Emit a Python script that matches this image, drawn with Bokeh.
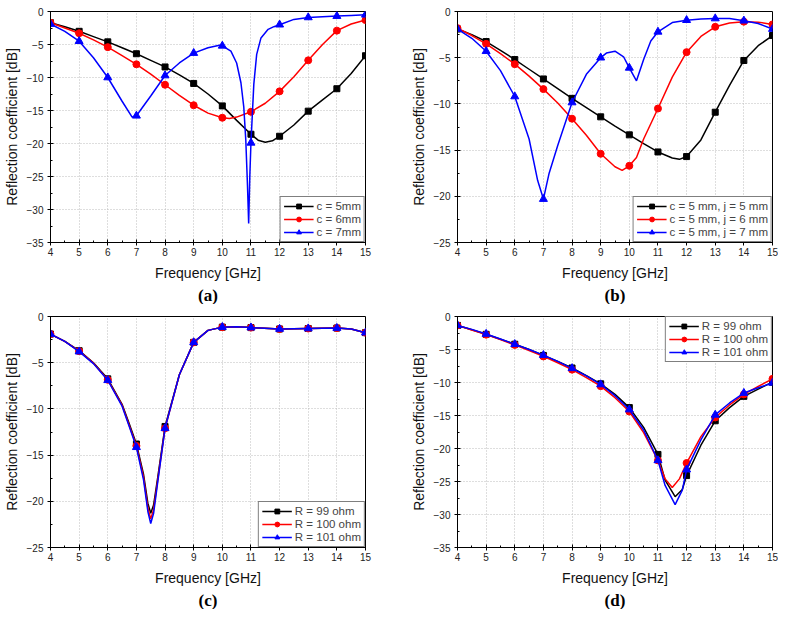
from bokeh.plotting import figure
from bokeh.layouts import column, row
from bokeh.models import Title, Legend, LegendItem, FixedTicker, Range1d
from bokeh.embed import file_html
from bokeh.resources import INLINE

# ---------------- data ----------------
freq = [4, 5, 6, 7, 8, 9, 10, 11, 12, 13, 14, 15]
x_ticks = [4, 5, 6, 7, 8, 9, 10, 11, 12, 13, 14, 15]
x_minor = [4.5, 5.5, 6.5, 7.5, 8.5, 9.5, 10.5, 11.5, 12.5, 13.5, 14.5]
y_ticks_35 = [0, -5, -10, -15, -20, -25, -30, -35]
y_ticks_25 = [0, -5, -10, -15, -20, -25]
y_minor_35 = [-2.5, -7.5, -12.5, -17.5, -22.5, -27.5, -32.5]
y_minor_25 = [-2.5, -7.5, -12.5, -17.5, -22.5]

# (a) marker values at integer frequencies
a_c5 = [-1.7, -3.0, -4.6, -6.4, -8.4, -10.9, -14.3, -18.6, -18.9, -15.1, -11.7, -6.7]
a_c6 = [-1.7, -3.3, -5.4, -8.0, -11.1, -14.2, -16.1, -15.2, -12.1, -7.4, -2.9, -1.3]
a_c7 = [-1.9, -4.5, -10.0, -15.8, -9.7, -6.3, -5.2, -19.9, -2.0, -0.9, -0.7, -0.5]
# (a) additional curve readings between markers
a_c5_ef = [4.5, 5.5, 6.5, 7.5, 8.5, 9.5, 10.5, 11.25, 11.5, 11.75, 12.5, 13.5, 14.5]
a_c5_ev = [-2.3, -3.8, -5.5, -7.4, -9.6, -12.5, -16.5, -19.5, -19.8, -19.6, -17.2, -13.4, -9.4]
a_c6_ef = [4.5, 5.5, 6.5, 7.5, 8.5, 9.5, 10.25, 10.5, 11.5, 12.5, 13.5, 14.5]
a_c6_ev = [-2.5, -4.3, -6.7, -9.5, -12.7, -15.4, -16.2, -16.0, -13.9, -9.9, -5.0, -1.9]
a_c7_ef = [4.5, 5.5, 6.5, 6.85, 7.5, 8.5, 9.5, 9.9, 10.3, 10.5, 10.65, 10.75, 10.82, 10.88,
           10.92, 10.96, 11.1, 11.2, 11.35, 11.6, 11.8, 12.5, 13.5, 14.5]
a_c7_ev = [-3.0, -7.0, -13.6, -16.0, -12.8, -7.8, -5.5, -5.1, -6.0, -7.8, -10.8, -14.5, -19.5, -26.5,
           -32.1, -25.0, -11.0, -6.5, -4.0, -2.7, -2.3, -1.2, -0.8, -0.6]

# (b)
b_j5 = [-1.9, -3.25, -5.2, -7.3, -9.4, -11.4, -13.35, -15.2, -15.7, -10.9, -5.3, -2.6]
b_j6 = [-1.8, -3.5, -5.7, -8.4, -11.6, -15.4, -16.7, -10.5, -4.4, -1.66, -1.1, -1.4]
b_j7 = [-1.9, -4.3, -9.2, -20.3, -9.85, -5.0, -6.1, -2.2, -0.94, -0.76, -1.0, -1.9]
b_j5_ef = [4.5, 5.5, 6.5, 7.5, 8.5, 9.5, 10.5, 11.5, 11.75, 12.5, 13.5, 14.5]
b_j5_ev = [-2.5, -4.2, -6.25, -8.35, -10.4, -12.4, -14.3, -15.85, -16.0, -13.9, -8.0, -3.7]
b_j6_ef = [4.5, 5.5, 6.5, 7.5, 8.5, 9.5, 9.75, 10.25, 10.5, 11.5, 12.5, 13.5, 14.5]
b_j6_ev = [-2.6, -4.55, -7.0, -9.9, -13.4, -16.8, -17.2, -15.8, -13.8, -7.1, -2.7, -1.25, -1.15]
b_j7_ef = [4.5, 5.5, 6.5, 6.8, 7.2, 7.5, 8.5, 9.2, 9.5, 9.8, 10.25, 10.5, 10.75, 11.5, 12.5, 13.5, 14.5]
b_j7_ev = [-2.9, -6.4, -13.8, -18.3, -17.5, -14.5, -6.8, -4.5, -4.3, -4.9, -7.5, -5.2, -3.2, -1.2, -0.8, -0.75, -1.3]

# (c)
c_r99 = [-1.9, -3.7, -6.75, -13.8, -11.9, -2.8, -1.15, -1.2, -1.35, -1.3, -1.25, -1.75]
c_r100 = [-1.9, -3.75, -6.85, -14.0, -12.1, -2.8, -1.15, -1.2, -1.35, -1.3, -1.25, -1.75]
c_r101 = [-1.9, -3.8, -6.9, -14.15, -12.1, -2.8, -1.15, -1.2, -1.35, -1.3, -1.25, -1.75]
c_r99_ef = [4.5, 5.5, 6.5, 6.75, 7.25, 7.4, 7.5, 7.6, 7.75, 8.5, 9.5, 10.5, 14.5]
c_r99_ev = [-2.7, -5.0, -9.5, -11.6, -17.1, -20.2, -21.3, -20.4, -17.3, -6.3, -1.5, -1.1, -1.35]
c_r100_ef = [4.5, 5.5, 6.5, 6.75, 7.25, 7.4, 7.5, 7.6, 7.75, 8.5, 9.5, 10.5, 14.5]
c_r100_ev = [-2.7, -5.05, -9.6, -11.8, -17.4, -20.7, -21.9, -20.9, -17.6, -6.3, -1.5, -1.1, -1.35]
c_r101_ef = [4.5, 5.5, 6.5, 6.75, 7.25, 7.4, 7.5, 7.6, 7.75, 8.5, 9.5, 10.5, 14.5]
c_r101_ev = [-2.7, -5.1, -9.7, -11.9, -17.7, -21.1, -22.4, -21.3, -17.8, -6.3, -1.5, -1.1, -1.35]

# (d)
d_r99 = [-1.35, -2.7, -4.2, -5.9, -7.8, -10.2, -13.8, -20.9, -24.1, -15.8, -12.1, -9.95]
d_r100 = [-1.35, -2.75, -4.3, -6.05, -8.05, -10.55, -14.4, -21.8, -22.2, -15.3, -11.8, -9.45]
d_r101 = [-1.35, -2.65, -4.2, -5.85, -7.85, -10.3, -14.1, -21.8, -23.2, -14.9, -11.6, -10.05]
d_r99_ef = [4.5, 5.5, 6.5, 7.5, 8.5, 9.5, 10.5, 11.25, 11.6, 11.85, 12.5, 13.5, 14.5]
d_r99_ev = [-2.0, -3.45, -5.0, -6.8, -8.95, -11.8, -16.8, -24.8, -27.3, -26.2, -19.5, -13.8, -11.0]
d_r100_ef = [4.5, 5.5, 6.5, 7.5, 8.5, 9.5, 10.5, 11.25, 11.5, 11.75, 12.5, 13.5, 14.5]
d_r100_ev = [-2.05, -3.5, -5.15, -7.0, -9.25, -12.3, -17.6, -24.6, -25.9, -24.6, -18.2, -13.4, -10.6]
d_r101_ef = [4.5, 5.5, 6.5, 7.5, 8.5, 9.5, 10.5, 11.25, 11.6, 11.85, 12.5, 13.5, 14.5]
d_r101_ev = [-1.95, -3.4, -5.0, -6.8, -9.0, -12.0, -17.2, -25.6, -28.5, -26.3, -18.7, -13.1, -10.8]

labels_a = ["c = 5mm", "c = 6mm", "c = 7mm"]
labels_b = ["c = 5 mm, j = 5 mm", "c = 5 mm, j = 6 mm", "c = 5 mm, j = 7 mm"]
labels_r = ["R = 99 ohm", "R = 100 ohm", "R = 101 ohm"]

colors = ["#000000", "#ff0000", "#0000ff"]
markers = ["square", "circle", "triangle"]
msizes = [6, 7, 8]

FONT = "Liberation Sans"


def merged(fx, fy, ex, ey):
    pts = sorted(list(zip(fx, fy)) + list(zip(ex, ey)))
    return [p[0] for p in pts], [p[1] for p in pts]


def panel(series, extras, labels, ymin, yticks, yminor, caption, legend_loc,
          bl, br, bt, bb):
    p = figure(frame_width=315, frame_height=231, output_backend="svg",
               toolbar_location=None, x_range=Range1d(4, 15), y_range=Range1d(ymin, 0),
               min_border_left=bl, min_border_right=br, min_border_top=bt,
               min_border_bottom=bb, background_fill_color="white",
               border_fill_color="white")
    p.outline_line_color = "black"
    p.outline_line_width = 1
    for g in (p.xgrid, p.ygrid):
        g.grid_line_color = "#bdbdbd"
        g.grid_line_dash = "1 2"
        g.grid_line_width = 1
    p.xaxis.ticker = FixedTicker(ticks=x_ticks, minor_ticks=x_minor)
    p.yaxis.ticker = FixedTicker(ticks=yticks, minor_ticks=yminor)
    for ax in (p.xaxis, p.yaxis):
        ax.axis_line_color = "black"
        ax.major_tick_in = 3
        ax.major_tick_out = 3
        ax.minor_tick_in = 2
        ax.minor_tick_out = 0
        ax.major_label_text_font = FONT
        ax.major_label_text_font_size = "10px"
        ax.major_label_text_color = "#222222"
        ax.axis_label_text_font = FONT
        ax.axis_label_text_font_size = "14px"
        ax.axis_label_text_font_style = "normal"
        ax.axis_label_text_color = "#111111"
    p.xaxis.major_label_standoff = 2
    p.yaxis.major_label_standoff = 4
    p.xaxis.axis_label = "Frequency [GHz]"
    p.yaxis.axis_label = "Reflection coefficient [dB]"
    p.xaxis.axis_label_standoff = 6
    p.yaxis.axis_label_standoff = 4

    items = []
    for i, (vals, (ex, ey)) in enumerate(zip(series, extras)):
        lx, ly = merged(freq, vals, ex, ey)
        ln = p.line(lx, ly, line_color=colors[i], line_width=1.5)
        sc = p.scatter(freq, vals, marker=markers[i], size=msizes[i],
                       fill_color=colors[i], line_color=colors[i])
        items.append(LegendItem(label=labels[i], renderers=[ln, sc]))
    leg = Legend(items=items, location=legend_loc, margin=0, padding=3,
                 spacing=1, label_text_font=FONT, label_text_font_size="11.5px",
                 label_height=12, glyph_height=12, glyph_width=30,
                 label_standoff=3, border_line_color="black",
                 border_line_width=1, background_fill_alpha=1)
    p.add_layout(leg)
    p.add_layout(Title(text=caption, align="center", text_font="Liberation Serif",
                       text_font_style="bold", text_font_size="17px",
                       text_color="black", standoff=0, offset=0), "below")
    return p


pa = panel([a_c5, a_c6, a_c7],
           [(a_c5_ef, a_c5_ev), (a_c6_ef, a_c6_ev), (a_c7_ef, a_c7_ev)],
           labels_a, -35, y_ticks_35, y_minor_35, "(a)", "bottom_right", 44, 30, 11, 62)
pb = panel([b_j5, b_j6, b_j7],
           [(b_j5_ef, b_j5_ev), (b_j6_ef, b_j6_ev), (b_j7_ef, b_j7_ev)],
           labels_b, -25, y_ticks_25, y_minor_25, "(b)", "bottom_right", 62, 6, 11, 62)
pc = panel([c_r99, c_r100, c_r101],
           [(c_r99_ef, c_r99_ev), (c_r100_ef, c_r100_ev), (c_r101_ef, c_r101_ev)],
           labels_r, -25, y_ticks_25, y_minor_25, "(c)", "bottom_right", 44, 30, 12, 62)
pd_ = panel([d_r99, d_r100, d_r101],
            [(d_r99_ef, d_r99_ev), (d_r100_ef, d_r100_ev), (d_r101_ef, d_r101_ev)],
            labels_r, -35, y_ticks_35, y_minor_35, "(d)", "top_right", 62, 6, 12, 62)

layout = column(row(pa, pb), row(pc, pd_))
open("out.html", "w").write(file_html(layout, INLINE))
